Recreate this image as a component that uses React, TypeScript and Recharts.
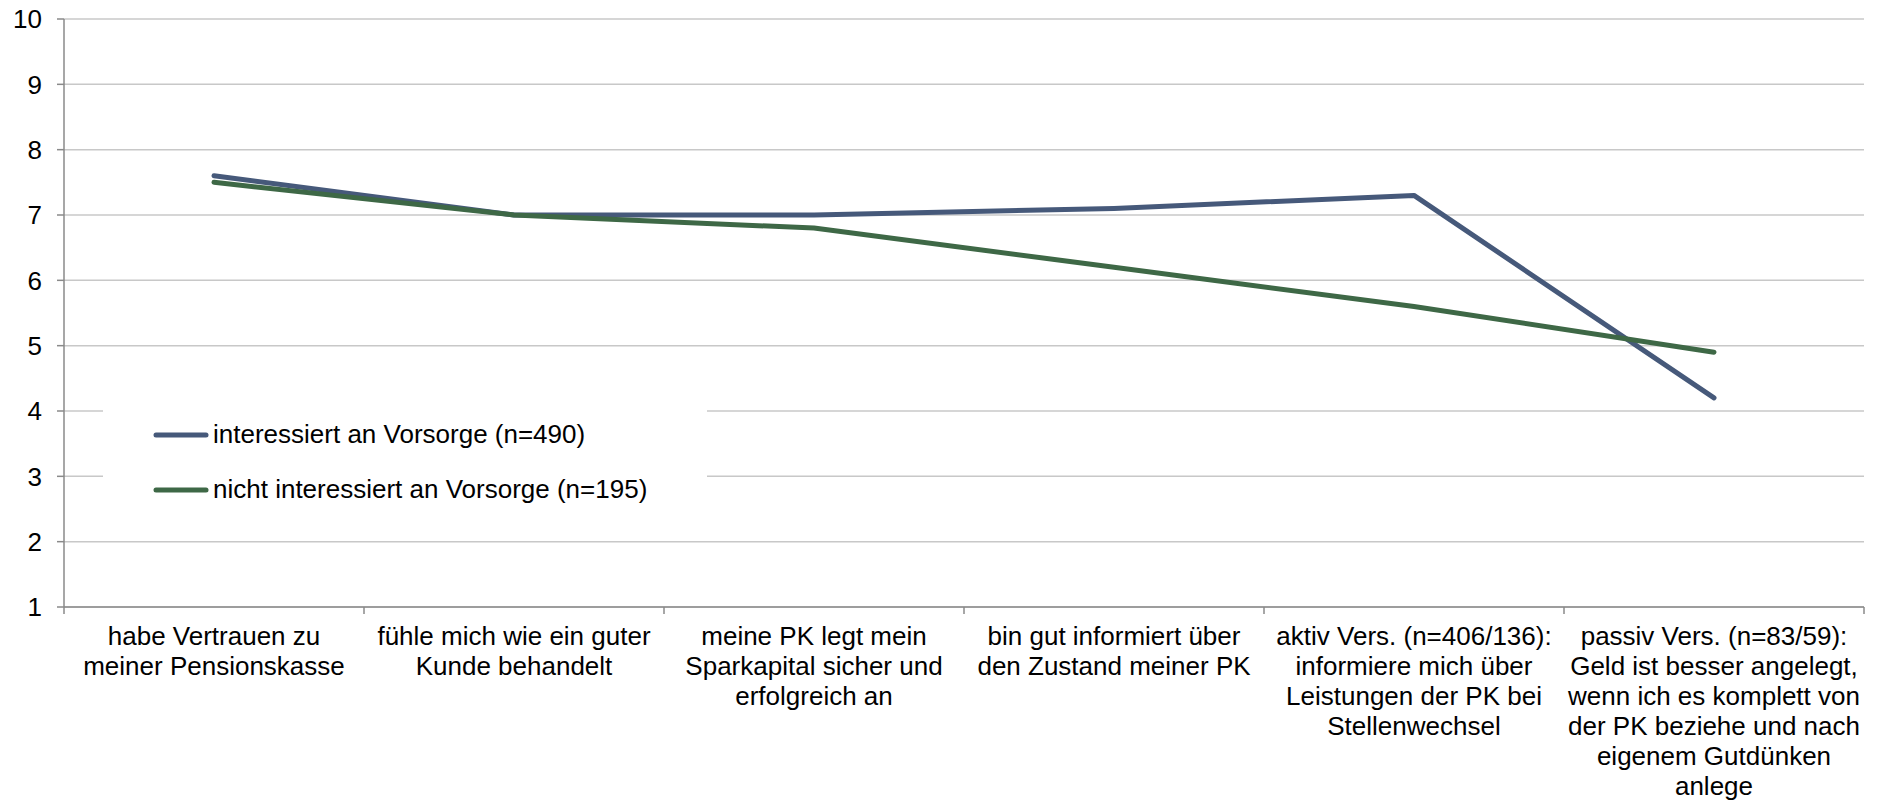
import React from 'react';
import { LineChart, Line, XAxis, YAxis, CartesianGrid, Legend } from 'recharts';

const categories = [
  'habe Vertrauen zu\nmeiner Pensionskasse',
  'fühle mich wie ein guter\nKunde behandelt',
  'meine PK legt mein\nSparkapital sicher und\nerfolgreich an',
  'bin gut informiert über\nden Zustand meiner PK',
  'aktiv Vers. (n=406/136):\ninformiere mich über\nLeistungen der PK bei\nStellenwechsel',
  'passiv Vers. (n=83/59):\nGeld ist besser angelegt,\nwenn ich es komplett von\nder PK beziehe und nach\neigenem Gutdünken\nanlege',
];
const interessiert = [7.6, 7.0, 7.0, 7.1, 7.3, 4.2];
const nichtInteressiert = [7.5, 7.0, 6.8, 6.2, 5.6, 4.9];
const yTicks = [1, 2, 3, 4, 5, 6, 7, 8, 9, 10];

const seriesNames = ['interessiert an Vorsorge (n=490)', 'nicht interessiert an Vorsorge (n=195)'];

const data = categories.map((c, i) => ({
  cat: c,
  a: interessiert[i],
  b: nichtInteressiert[i],
}));

const FONT = '"Liberation Sans", Arial, sans-serif';
const AXIS = '#8a8a8a';

const CategoryTick = (props: any) => {
  const { x, y, payload, index, visibleTicksCount } = props;
  const half = payload.offset ?? 0;
  const lines = String(payload.value).split('\n');
  const isLast = index === visibleTicksCount - 1;
  return (
    <g>
      <line x1={x - half} x2={x - half} y1={y - 7} y2={y} stroke={AXIS} strokeWidth={1.5} />
      {isLast && <line x1={x + half} x2={x + half} y1={y - 7} y2={y} stroke={AXIS} strokeWidth={1.5} />}
      <text x={x} y={y} textAnchor="middle" fontSize={26} fontFamily={FONT} fill="#000">
        {lines.map((l, i) => (
          <tspan key={i} x={x} dy={i === 0 ? 31 : 30}>
            {l}
          </tspan>
        ))}
      </text>
    </g>
  );
};

const LegendBox = (props: any) => {
  const items = props.payload || [];
  return (
    <div style={{ background: '#fff', width: 604, height: 140, paddingTop: 27, boxSizing: 'border-box' }}>
      {items.map((it: any, i: number) => (
        <div key={i} style={{ display: 'flex', alignItems: 'center', height: 55, paddingLeft: 50 }}>
          <svg width={56} height={8} style={{ marginRight: 4 }}>
            <line x1={3} x2={53} y1={4} y2={4} stroke={it.color} strokeWidth={5} strokeLinecap="round" />
          </svg>
          <span style={{ fontSize: 26, fontFamily: FONT, color: '#000', whiteSpace: 'nowrap' }}>{it.value}</span>
        </div>
      ))}
    </div>
  );
};

export default function App() {
  return (
    <div style={{ position: 'absolute', left: 0, top: 0, background: '#fff', fontFamily: FONT }}>
      <LineChart width={1877} height={805} data={data} margin={{ top: 19, right: 13, bottom: 0, left: 0 }}>
        <CartesianGrid horizontal vertical={false} stroke="#c8c8c8" strokeWidth={1.5} />
        <XAxis
          dataKey="cat"
          scale="band"
          height={198}
          interval={0}
          tickLine={false}
          tickSize={7}
          tickMargin={0}
          stroke={AXIS}
          strokeWidth={1.5}
          tick={<CategoryTick />}
        />
        <YAxis
          type="number"
          domain={[1, 10]}
          ticks={yTicks}
          width={64}
          tickSize={7}
          tickMargin={15}
          stroke={AXIS}
          strokeWidth={1.5}
          tick={{ fontSize: 26, fill: '#000', fontFamily: FONT }}
        />
        <Legend
          layout="vertical"
          align="center"
          verticalAlign="middle"
          wrapperStyle={{ left: 103, top: 380, width: 604, height: 140 }}
          content={<LegendBox />}
        />
        <Line
          type="linear"
          dataKey="a"
          name={seriesNames[0]}
          stroke="#46597a"
          strokeWidth={5}
          strokeLinecap="round"
          strokeLinejoin="round"
          dot={false}
          activeDot={false}
          isAnimationActive={false}
        />
        <Line
          type="linear"
          dataKey="b"
          name={seriesNames[1]}
          stroke="#3e6846"
          strokeWidth={5}
          strokeLinecap="round"
          strokeLinejoin="round"
          dot={false}
          activeDot={false}
          isAnimationActive={false}
        />
      </LineChart>
    </div>
  );
}
